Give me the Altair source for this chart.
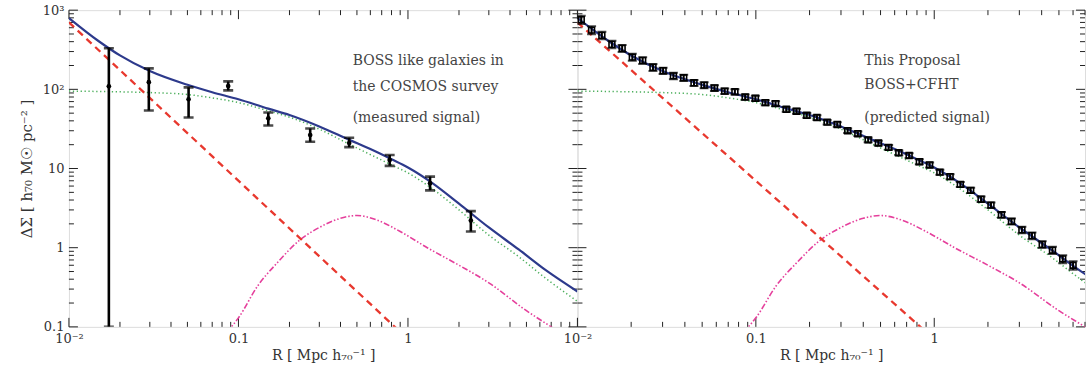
import altair as alt
import pandas as pd

# ---------------- data ----------------
# model curves (R in Mpc/h70, DeltaSigma in h70 Msun/pc^2)
R_MODEL = [0.01, 0.015, 0.02, 0.03, 0.05, 0.07, 0.1, 0.15, 0.2, 0.3, 0.45, 0.6, 0.8, 1.0, 1.4, 2.0, 3.0, 4.5, 6.5, 10]
BLUE = [795, 405, 268, 170, 114, 92, 75, 57, 47.5, 34, 23, 17.6, 13.1, 10.3, 6.5, 3.6, 1.8, 0.95, 0.52, 0.28]
GREEN = [95, 94, 93, 91, 86, 78, 68, 53.5, 44.5, 31.4, 20.3, 15, 11.1, 8.8, 5.5, 3.0, 1.44, 0.77, 0.41, 0.21]
R_MAG = [0.085, 0.1, 0.13, 0.17, 0.23, 0.3, 0.4, 0.5, 0.65, 0.9, 1.3, 2.0, 3.0, 5.0, 7.0, 9.0]
MAG = [0.085, 0.13, 0.33, 0.65, 1.25, 1.8, 2.35, 2.55, 2.25, 1.6, 1.0, 0.6, 0.36, 0.16, 0.1, 0.07]
R_RED = [0.01, 1.0]
RED = [700, 0.07]

# left panel: measured signal
R_L = [0.0172, 0.0296, 0.0508, 0.087, 0.15, 0.265, 0.45, 0.78, 1.35, 2.35]
V_L = [109, 123, 75, 110, 43, 26.5, 21, 12.8, 6.5, 2.2]
LO_L = [0.1, 54, 44, 97, 35, 21.8, 18.6, 10.8, 5.3, 1.6]
HI_L = [330, 184, 106, 126, 51, 32, 24.5, 14.8, 7.9, 2.9]

# right panel: predicted signal
R_R = [0.0105, 0.012, 0.0137, 0.0156, 0.0178, 0.0203, 0.0232, 0.0265, 0.0302, 0.0345,
       0.0394, 0.045, 0.0513, 0.0586, 0.0669, 0.0763, 0.0871, 0.0994, 0.113, 0.129,
       0.148, 0.169, 0.193, 0.22, 0.251, 0.286, 0.327, 0.373, 0.426, 0.486,
       0.555, 0.633, 0.723, 0.825, 0.942, 1.075, 1.227, 1.4, 1.6, 1.83,
       2.08, 2.38, 2.71, 3.1, 3.53, 4.03, 4.6, 5.25, 6.0]
V_R = [760, 560, 480, 370, 330, 255, 232, 190, 172, 148,
       140, 121, 113, 104, 95, 93, 80, 77, 68, 66,
       56, 53, 47, 44, 38.5, 36, 30, 27.5, 23, 21,
       18.5, 15.8, 14.6, 12.2, 11.1, 9.0, 7.9, 6.3, 5.3, 4.1,
       3.45, 2.6, 2.15, 1.68, 1.42, 1.1, 0.93, 0.72, 0.6]
E_R = [90, 65, 52, 40, 34, 26, 23, 19, 16, 14,
       12.5, 10.5, 9.5, 8.5, 7.5, 7, 6.3, 5.8, 5.0, 4.6,
       4.0, 3.7, 3.3, 3.0, 2.6, 2.4, 2.0, 1.8, 1.6, 1.45,
       1.3, 1.1, 1.0, 0.85, 0.78, 0.65, 0.56, 0.46, 0.4, 0.32,
       0.28, 0.22, 0.19, 0.16, 0.14, 0.11, 0.1, 0.085, 0.075]

X_MAJOR = [0.01, 0.1, 1, 10]
X_MINOR = [0.02, 0.03, 0.04, 0.05, 0.06, 0.07, 0.08, 0.09,
           0.2, 0.3, 0.4, 0.5, 0.6, 0.7, 0.8, 0.9,
           2, 3, 4, 5, 6, 7, 8, 9]
Y_MAJOR = [0.1, 1, 10, 100, 1000]
Y_MINOR = [0.2, 0.3, 0.4, 0.5, 0.6, 0.7, 0.8, 0.9,
           2, 3, 4, 5, 6, 7, 8, 9,
           20, 30, 40, 50, 60, 70, 80, 90,
           200, 300, 400, 500, 600, 700, 800, 900]

LEFT_TEXT = ["BOSS like galaxies in", "the COSMOS survey", "(measured signal)"]
RIGHT_TEXT = ["This Proposal", "BOSS+CFHT", "(predicted signal)"]
X_TITLE = "R  [ Mpc  h\u2087\u2080\u207b\u00b9 ]"
Y_TITLE = "\u0394\u03a3  [ h\u2087\u2080 M\u2609 pc\u207b\u00b2 ]"

FONT = "DejaVu Serif"
H = 317
YDOM = [0.1, 1000]


def panel(W, xmax, show_y, points, lines_text):
    xs = alt.Scale(type="log", domain=[0.01, xmax], nice=False)
    ys = alt.Scale(type="log", domain=YDOM, nice=False)
    xvals = [v for v in X_MAJOR if v < xmax * 0.95]
    xaxis = alt.Axis(values=xvals, ticks=False, domain=False, grid=False,
                     labelExpr="datum.value < 0.05 ? '10\u207b\u00b2' : datum.value < 0.5 ? '0.1' : datum.value < 5 ? '1' : '10\u00b9'",
                     labelFont=FONT, labelFontSize=13, labelColor="#333", labelPadding=6,
                     title=X_TITLE, titleFont=FONT, titleFontSize=14, titleFontWeight="normal",
                     titleColor="#333", titlePadding=3, labelFlush=False)
    if show_y:
        yaxis = alt.Axis(values=Y_MAJOR, ticks=False, domain=False, grid=False,
                         labelExpr="datum.value > 500 ? '10\u00b3' : datum.value > 50 ? '10\u00b2' : datum.value > 5 ? '10' : datum.value > 0.5 ? '1' : '0.1'",
                         labelFont=FONT, labelFontSize=13, labelColor="#333", labelPadding=5,
                         title=Y_TITLE, titleFont=FONT, titleFontSize=15, titleFontWeight="normal",
                         titleColor="#333", titlePadding=8, labelFlush=False)
    else:
        yaxis = None

    def X(f="R"):
        return alt.X(f + ":Q", scale=xs, axis=xaxis)

    def Y(f="v"):
        return alt.Y(f + ":Q", scale=ys, axis=yaxis)

    layers = []
    # ticks (inward)
    xmaj = pd.DataFrame({"R": [v for v in X_MAJOR if v <= xmax]})
    xmin = pd.DataFrame({"R": [v for v in X_MINOR if v <= xmax]})
    ymaj = pd.DataFrame({"v": Y_MAJOR})
    ymin = pd.DataFrame({"v": Y_MINOR})
    for df, ln in ((xmaj, 9), (xmin, 5)):
        layers.append(alt.Chart(df).mark_rule(color="#222", strokeWidth=1).encode(
            x=X(), y=alt.value(H), y2=alt.value(H - ln)))
        layers.append(alt.Chart(df).mark_rule(color="#222", strokeWidth=1).encode(
            x=X(), y=alt.value(0), y2=alt.value(ln)))
    for df, ln in ((ymaj, 9), (ymin, 5)):
        layers.append(alt.Chart(df).mark_rule(color="#222", strokeWidth=1).encode(
            y=Y(), x=alt.value(0), x2=alt.value(ln)))
        layers.append(alt.Chart(df).mark_rule(color="#222", strokeWidth=1).encode(
            y=Y(), x=alt.value(W), x2=alt.value(W - ln)))

    green = pd.DataFrame({"R": R_MODEL, "v": GREEN})
    blue = pd.DataFrame({"R": R_MODEL, "v": BLUE})
    mag = pd.DataFrame({"R": R_MAG, "v": MAG})
    red = pd.DataFrame({"R": R_RED, "v": RED})

    layers.append(alt.Chart(green).mark_line(color="#4caf5c", strokeWidth=1.5, strokeDash=[1.3, 2.6],
                                             interpolate="monotone", clip=True).encode(x=X(), y=Y()))
    layers.append(alt.Chart(mag).mark_line(color="#e5409c", strokeWidth=1.6, strokeDash=[6, 2, 1.5, 2, 1.5, 2],
                                           interpolate="monotone", clip=True).encode(x=X(), y=Y()))
    layers.append(alt.Chart(red).mark_line(color="#e8382e", strokeWidth=2.3, strokeDash=[7, 5],
                                           clip=True).encode(x=X(), y=Y()))
    layers.append(alt.Chart(blue).mark_line(color="#2d3a8c", strokeWidth=2.2,
                                            interpolate="monotone", clip=True).encode(x=X(), y=Y()))

    pdf, cap, thick, psize, filled = points
    layers.append(alt.Chart(pdf).mark_rule(color="black", strokeWidth=thick, clip=True).encode(
        x=X(), y=Y("lo"), y2=alt.Y2("hi:Q")))
    layers.append(alt.Chart(pdf).mark_tick(color="black", orient="horizontal", size=cap,
                                           thickness=thick, clip=True).encode(x=X(), y=Y("lo")))
    layers.append(alt.Chart(pdf).mark_tick(color="black", orient="horizontal", size=cap,
                                           thickness=thick, clip=True).encode(x=X(), y=Y("hi")))
    if filled:
        layers.append(alt.Chart(pdf).mark_circle(color="black", size=psize, opacity=1).encode(x=X(), y=Y()))
    else:
        layers.append(alt.Chart(pdf).mark_square(filled=False, color="black", size=psize,
                                                 strokeWidth=1.6, opacity=1).encode(x=X(), y=Y()))

    tx, ty = lines_text[0]
    for txt, yy in zip(lines_text[1], ty):
        layers.append(alt.Chart(pd.DataFrame({"t": [txt]})).mark_text(
            align="left", baseline="middle", font=FONT, fontSize=14, color="#444").encode(
            text="t:N", x=alt.value(tx), y=alt.value(yy)))

    return alt.layer(*layers).properties(width=W, height=H)


left_pts = pd.DataFrame({"R": R_L, "v": V_L, "lo": LO_L, "hi": HI_L})
right_pts = pd.DataFrame({"R": R_R, "v": V_R,
                          "lo": [a - b for a, b in zip(V_R, E_R)],
                          "hi": [a + b for a, b in zip(V_R, E_R)]})

left = panel(509, 10, True, (left_pts, 10, 2.6, 22, True),
             ((284, [51, 77, 108]), LEFT_TEXT))
right = panel(508, 7.0, False, (right_pts, 9, 2.0, 34, False),
              ((287, [51, 75, 108]), RIGHT_TEXT))

chart = alt.hconcat(left, right, spacing=0, bounds="flush").properties(
    padding={"left": 18, "top": 3, "right": 0, "bottom": 0},
).configure_view(stroke="#111", strokeWidth=1.2).configure(background="white")

chart.save("out.html", embed_options={"renderer": "svg", "actions": False})
